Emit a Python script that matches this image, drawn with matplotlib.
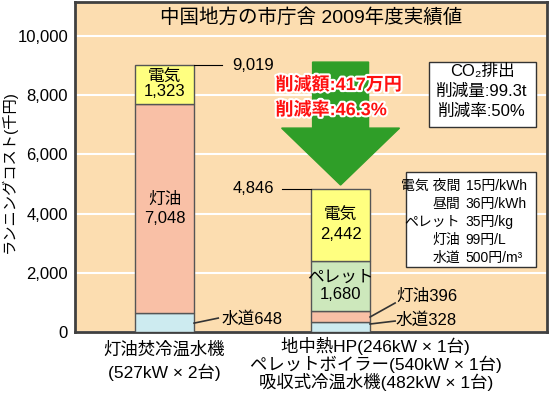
import matplotlib.pyplot as plt
import matplotlib.patheffects as pe
from matplotlib.patches import Polygon, Rectangle
import numpy as np

plt.rcParams['font.family'] = ['Liberation Sans', 'Noto Sans CJK JP', 'DejaVu Sans']

# data (thousand yen)
labels_x = [["灯油焚冷温水機", "(527kW × 2台)"],
            ["地中熱HP(246kW × 1台)", "ペレットボイラー(540kW × 1台)", "吸収式冷温水機(482kW × 1台)"]]
suido = [648, 328]
touyu = [7048, 396]
pellet = [0, 1680]
denki = [1323, 2442]

prices = [("電気 夜間", "15円/kWh"), ("昼間", "36円/kWh"), ("ペレット", "35円/kg"),
          ("灯油", "99円/L"), ("水道", "500円/m³")]
co2_lines = ["CO₂排出", "削減量:99.3t", "削減率:50%"]
reduction_lines = ["削減額:417万円", "削減率:46.3%"]

bg = '#FCDDB0'
col_suido = '#CDEBF0'
col_touyu = '#F9C0A6'
col_pellet = '#CDE8BC'
col_denki = '#FFFF80'

fig = plt.figure(figsize=(5.49, 3.95), dpi=100)
ax = fig.add_axes([75/549, 63/395, 472/549, 330/395])
ax.set_facecolor(bg)

x = np.arange(2)
w = 0.335
b1 = np.array(suido)
b2 = b1 + np.array(touyu)
b3 = b2 + np.array(pellet)
tot = b3 + np.array(denki)

ax.bar(x, suido, w, color=col_suido, edgecolor='#555555', lw=1, zorder=3)
ax.bar(x, touyu, w, bottom=b1, color=col_touyu, edgecolor='#555555', lw=1, zorder=3)
ax.bar(x[1:], pellet[1:], w, bottom=b2[1:], color=col_pellet, edgecolor='#555555', lw=1, zorder=3)
ax.bar(x, denki, w, bottom=b3, color=col_denki, edgecolor='#555555', lw=1, zorder=3)

ax.set_xlim(-0.509, 2.173)
ax.set_ylim(0, 11150)
ax.set_yticks(range(0, 10001, 2000))
ax.set_yticklabels([f"{v:,}" for v in range(0, 10001, 2000)], fontsize=12)
ax.set_xticks([])
ax.tick_params(axis='y', length=0, pad=5)
ax.grid(axis='y', color='white', lw=1.5, zorder=1)
for s in ax.spines.values():
    s.set_color('#404040')
    s.set_linewidth(2)
ax.set_ylabel("ランニングコスト(千円)", fontsize=11)
ax.yaxis.set_label_coords(-0.124, 0.485)

# title
ax.text(0.5, 10640, "中国地方の市庁舎 2009年度実績値", ha='center', va='center', fontsize=14, zorder=5,
        transform=ax.get_yaxis_transform())

# in-bar labels
ax.text(0, b3[0] + denki[0]/2, f"電気\n{denki[0]:,}", ha='center', va='center', fontsize=12, linespacing=0.95, zorder=4)
ax.text(0, b1[0] + touyu[0]/2, f"灯油\n{touyu[0]:,}", ha='center', va='center', fontsize=12, linespacing=1.35, zorder=4)
ax.text(1, b3[1] + denki[1]/2, f"電気\n{denki[1]:,}", ha='center', va='center', fontsize=12, linespacing=1.35, zorder=4)
ax.text(1, b2[1] + pellet[1]/2, f"ペレット\n{pellet[1]:,}", ha='center', va='center', fontsize=12, linespacing=1.2, zorder=4)

# totals
ax.plot([w/2, 0.327], [tot[0], tot[0]], color='black', lw=0.8, zorder=4)
ax.text(0.384, tot[0], f"{tot[0]:,}", ha='left', va='center', fontsize=12, zorder=4)
ax.plot([0.668, 1 - w/2], [tot[1], tot[1]], color='black', lw=0.8, zorder=4)
ax.text(0.384, tot[1], f"{tot[1]:,}", ha='left', va='center', fontsize=12, zorder=4)

# small segment labels
ax.plot([w/2, 0.305], [300, 470], color='#333333', lw=1.2, zorder=4)
ax.text(0.322, 430, f"水道{suido[0]}", ha='left', va='center', fontsize=12, zorder=4)
ax.plot([1 + w/2, 1.31], [507, 980], color='#333333', lw=1.2, zorder=4)
ax.text(1.315, 1216, f"灯油{touyu[1]}", ha='left', va='center', fontsize=12, zorder=4)
ax.plot([1 + w/2, 1.31], [270, 370], color='#333333', lw=1.2, zorder=4)
ax.text(1.315, 400, f"水道{suido[1]}", ha='left', va='center', fontsize=12, zorder=4)

# arrow
ax_x = 1.0
shaft = 0.159
head = 0.335
tip = tot[1] + 120
poly = [(ax_x - shaft, 9120), (ax_x + shaft, 9120), (ax_x + shaft, 6890), (ax_x + head, 6890),
        (ax_x, tip), (ax_x - head, 6890), (ax_x - shaft, 6890)]
ax.add_patch(Polygon(poly, closed=True, color='#2F9E28', zorder=4))

for i, t in enumerate(reduction_lines):
    ax.text(0.63, 8330 - i * 850, t, ha='left', va='center', fontsize=13, fontweight='bold', color='#FF1010',
            zorder=6, path_effects=[pe.withStroke(linewidth=3, foreground='white')])

# CO2 box
ax.add_patch(Rectangle((1.5, 6910), 0.608, 2200, facecolor='white', edgecolor='#333333', lw=1, zorder=4))
for i, t in enumerate(co2_lines):
    ax.text(1.804, 8800 - i * 670, t, ha='center', va='center', fontsize=12, zorder=5)

# price box
ax.add_patch(Rectangle((1.372, 2200), 0.736, 3190, facecolor='white', edgecolor='#333333', lw=1, zorder=4))
for i, (k, v) in enumerate(prices):
    yy = 4920 - i * 605
    ax.text(1.68, yy, k, ha='right', va='center', fontsize=10, zorder=5)
    ax.text(1.71, yy, v, ha='left', va='center', fontsize=10, zorder=5)

# category labels below axis
for i, t in enumerate(labels_x[0]):
    ax.text(0, -608 - i * 743, t, ha='center', va='center', fontsize=12.5, clip_on=False)
for i, t in enumerate(labels_x[1]):
    ax.text(1.2, -473 - i * 615, t, ha='center', va='center', fontsize=12.5, clip_on=False)

fig.savefig('out.png', dpi=100)
